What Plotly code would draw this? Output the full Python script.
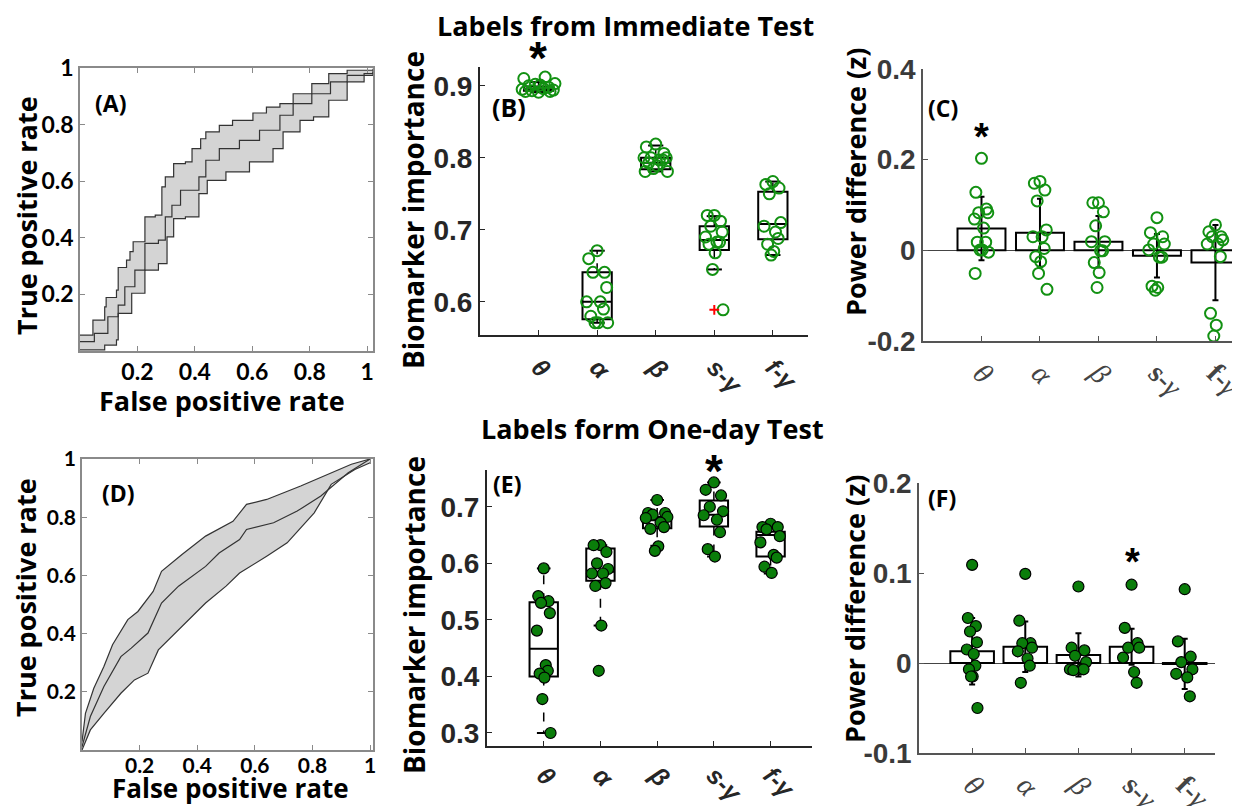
import plotly.graph_objects as go

# ---------------- data ----------------
CATS = [1, 2, 3, 4, 5]
CAT_BOLD = ['<b><i>θ</i></b>', '<b><i>α</i></b>', '<b><i>β</i></b>', '<b><i>s-γ</i></b>', '<b><i>f-γ</i></b>']
CAT_SYM = ['<i>θ</i>', '<i>α</i>', '<i>β</i>', '<b>s-</b><i>γ</i>', '<b>f-</b><i>γ</i>']

# Panel A ROC (immediate)
A_up_x = [0, 0.045, 0.086, 0.091, 0.109, 0.127, 0.133, 0.162, 0.174, 0.185, 0.209, 0.226, 0.262, 0.285, 0.297, 0.326, 0.367, 0.39, 0.42, 0.438, 0.485, 0.531, 0.602, 0.649, 0.696, 0.742, 0.807, 0.866, 0.93, 1.02]
A_up_y = [0.056, 0.109, 0.156, 0.189, 0.189, 0.215, 0.295, 0.321, 0.351, 0.386, 0.386, 0.474, 0.48, 0.58, 0.615, 0.662, 0.668, 0.715, 0.75, 0.774, 0.797, 0.815, 0.841, 0.862, 0.874, 0.909, 0.945, 0.98, 0.992, 0.997]
A_mid_x = [0, 0.05, 0.097, 0.133, 0.156, 0.191, 0.226, 0.273, 0.297, 0.32, 0.35, 0.414, 0.438, 0.485, 0.555, 0.625, 0.696, 0.742, 0.807, 0.872, 0.93, 1.02]
A_mid_y = [0.033, 0.062, 0.121, 0.162, 0.227, 0.286, 0.38, 0.392, 0.474, 0.515, 0.568, 0.615, 0.674, 0.715, 0.744, 0.78, 0.833, 0.874, 0.909, 0.951, 0.974, 0.992]
A_lo_x = [0, 0.086, 0.127, 0.133, 0.18, 0.226, 0.273, 0.303, 0.326, 0.367, 0.414, 0.443, 0.508, 0.59, 0.672, 0.707, 0.766, 0.813, 0.866, 0.93, 0.989, 1.02]
A_lo_y = [0.004, 0.021, 0.039, 0.133, 0.204, 0.286, 0.309, 0.403, 0.468, 0.474, 0.556, 0.603, 0.633, 0.668, 0.715, 0.774, 0.815, 0.827, 0.886, 0.951, 0.98, 0.986]

# Panel D ROC (one-day)
D_up_x = [0, 0.012, 0.041, 0.076, 0.106, 0.159, 0.194, 0.247, 0.276, 0.347, 0.429, 0.524, 0.571, 0.641, 0.759, 0.865, 0.935, 1.0]
D_up_y = [0.029, 0.126, 0.212, 0.287, 0.362, 0.448, 0.476, 0.545, 0.614, 0.672, 0.735, 0.786, 0.844, 0.861, 0.907, 0.953, 0.982, 1.0]
D_mid_x = [0, 0.029, 0.076, 0.135, 0.171, 0.229, 0.276, 0.335, 0.429, 0.476, 0.547, 0.571, 0.665, 0.747, 0.829, 0.924, 1.0]
D_mid_y = [0.011, 0.115, 0.218, 0.321, 0.35, 0.402, 0.505, 0.563, 0.631, 0.677, 0.723, 0.758, 0.781, 0.821, 0.873, 0.953, 1.0]
D_lo_x = [0, 0.029, 0.076, 0.135, 0.182, 0.229, 0.265, 0.324, 0.429, 0.5, 0.547, 0.641, 0.712, 0.806, 0.865, 0.947, 1.0]
D_lo_y = [0, 0.069, 0.126, 0.195, 0.241, 0.264, 0.344, 0.402, 0.505, 0.563, 0.608, 0.666, 0.712, 0.815, 0.913, 0.964, 0.987]

# Panel B boxplot (immediate)
B_q1 = [0.893, 0.576, 0.784, 0.672, 0.687]
B_med = [0.895, 0.600, 0.793, 0.686, 0.708]
B_q3 = [0.899, 0.641, 0.800, 0.705, 0.753]
B_lo = [0.891, 0.571, 0.781, 0.645, 0.665]
B_hi = [0.905, 0.671, 0.817, 0.719, 0.767]
B_outlier_cat = [4]
B_outlier_val = [0.589]
B_theta = [0.891, 0.892, 0.892, 0.893, 0.894, 0.895, 0.896, 0.898, 0.900, 0.901, 0.902, 0.903, 0.910, 0.912]
B_alpha = [0.671, 0.660, 0.641, 0.641, 0.620, 0.600, 0.600, 0.590, 0.580, 0.571, 0.571, 0.571]
B_beta = [0.819, 0.815, 0.806, 0.800, 0.800, 0.800, 0.797, 0.797, 0.793, 0.789, 0.785, 0.781, 0.781]
B_sgamma = [0.720, 0.720, 0.712, 0.705, 0.697, 0.690, 0.683, 0.683, 0.680, 0.668, 0.645, 0.589]
B_fgamma = [0.767, 0.763, 0.758, 0.750, 0.710, 0.705, 0.697, 0.688, 0.680, 0.670, 0.665]

# Panel E boxplot (one-day)
E_q1 = [0.400, 0.569, 0.662, 0.665, 0.612]
E_med = [0.449, 0.585, 0.676, 0.686, 0.650]
E_q3 = [0.531, 0.626, 0.682, 0.711, 0.656]
E_lo = [0.300, 0.490, 0.631, 0.612, 0.582]
E_hi = [0.591, 0.632, 0.712, 0.743, 0.670]
E_theta = [0.591, 0.542, 0.533, 0.530, 0.512, 0.481, 0.420, 0.410, 0.405, 0.398, 0.360, 0.300]
E_alpha = [0.632, 0.632, 0.620, 0.600, 0.590, 0.582, 0.582, 0.565, 0.560, 0.490, 0.410]
E_beta = [0.712, 0.689, 0.689, 0.686, 0.682, 0.680, 0.672, 0.664, 0.661, 0.630, 0.622]
E_sgamma = [0.743, 0.730, 0.720, 0.700, 0.692, 0.685, 0.677, 0.655, 0.625, 0.612]
E_fgamma = [0.670, 0.664, 0.664, 0.660, 0.648, 0.637, 0.615, 0.610, 0.594, 0.583]

# Panel C bars (immediate)
C_mean = [0.048, 0.039, 0.019, -0.012, -0.027]
C_err = [0.070, 0.075, 0.057, 0.048, 0.083]
C_theta = [0.203, 0.128, 0.091, 0.083, 0.083, 0.069, 0.049, 0.018, 0.018, 0.001, 0.001, -0.004, -0.051]
C_alpha = [0.152, 0.148, 0.133, 0.109, 0.045, 0.030, 0.030, 0.004, -0.014, -0.025, -0.051, -0.086]
C_beta = [0.105, 0.105, 0.085, 0.054, 0.019, 0.019, -0.001, -0.001, -0.027, -0.049, -0.082]
C_sgamma = [0.072, 0.039, 0.030, 0.014, 0.014, 0.001, -0.015, -0.015, -0.079, -0.082, -0.088]
C_fgamma = [0.056, 0.041, 0.030, 0.030, 0.023, 0.014, 0.014, -0.014, -0.139, -0.165, -0.189]

# Panel F bars (one-day)
F_mean = [0.013, 0.018, 0.009, 0.018, -0.001]
F_err = [0.037, 0.028, 0.024, 0.020, 0.028]
F_theta = [0.109, 0.050, 0.041, 0.035, 0.023, 0.015, 0.010, -0.003, -0.007, -0.015, -0.015, -0.050]
F_alpha = [0.099, 0.047, 0.022, 0.022, 0.017, 0.013, 0.005, -0.003, -0.022]
F_beta = [0.085, 0.017, 0.014, 0.008, 0.001, -0.007, -0.007, -0.007, -0.008]
F_sgamma = [0.087, 0.039, 0.022, 0.017, 0.017, 0.006, -0.010, -0.022]
F_fgamma = [0.082, 0.024, 0.007, 0.001, -0.007, -0.012, -0.016, -0.037]

# jitter pattern (horizontal spread of dots, style only)
JIT = [0.0, -0.8, 0.7, -0.4, 0.9, -1.0, 0.3, 0.6, -0.6, 0.1, -0.2, 1.0, -0.9, 0.4]

GREEN = '#129112'
DARK = '#262626'
OFF = 8                     # page body margin
W, H = 1240 - OFF, 806 - OFF


def px(x):
    return (x - OFF) / W


def py(y):
    return 1 - (y - OFF) / H


fig = go.Figure()


def roc(xa, ya, up, mid, lo, shape):
    fig.add_trace(go.Scatter(x=lo[0], y=lo[1], mode='lines', line=dict(color='#333', width=1.2, shape=shape),
                             xaxis=xa, yaxis=ya, showlegend=False))
    fig.add_trace(go.Scatter(x=up[0], y=up[1], mode='lines', line=dict(color='#333', width=1.2, shape=shape),
                             fill='tonexty', fillcolor='#d4d4d4', xaxis=xa, yaxis=ya, showlegend=False))
    fig.add_trace(go.Scatter(x=mid[0], y=mid[1], mode='lines', line=dict(color='#333', width=1.2, shape=shape),
                             xaxis=xa, yaxis=ya, showlegend=False))


roc('x', 'y', (A_up_x, A_up_y), (A_mid_x, A_mid_y), (A_lo_x, A_lo_y), 'hv')
roc('x4', 'y4', (D_up_x, D_up_y), (D_mid_x, D_mid_y), (D_lo_x, D_lo_y), 'linear')


def boxpanel(xa, ya, q1, med, q3, lo, hi, groups, spread, marker, cap=0.12):
    fig.add_trace(go.Box(x=CATS, q1=q1, median=med, q3=q3, lowerfence=q1, upperfence=q3,
                         width=0.5, whiskerwidth=0, boxpoints=False, fillcolor='rgba(255,255,255,0)',
                         line=dict(color='black', width=2), xaxis=xa, yaxis=ya, showlegend=False))
    wx, wy, cx, cy = [], [], [], []
    for c, a, b, l, h in zip(CATS, q1, q3, lo, hi):
        wx += [c, c, None, c, c, None]
        wy += [b, h, None, a, l, None]
        cx += [c - cap, c + cap, None, c - cap, c + cap, None]
        cy += [h, h, None, l, l, None]
    fig.add_trace(go.Scatter(x=wx, y=wy, mode='lines', line=dict(color='black', width=1.5, dash='dash'),
                             xaxis=xa, yaxis=ya, showlegend=False))
    fig.add_trace(go.Scatter(x=cx, y=cy, mode='lines', line=dict(color='black', width=2),
                             xaxis=xa, yaxis=ya, showlegend=False))
    for c, vals, s in zip(CATS, groups, spread):
        xs = [c + s * JIT[i % len(JIT)] for i in range(len(vals))]
        fig.add_trace(go.Scatter(x=xs, y=vals, mode='markers', marker=marker,
                                 xaxis=xa, yaxis=ya, showlegend=False))


hollow = dict(symbol='circle-open', size=11, color=GREEN, line=dict(width=2, color=GREEN))
filled = dict(symbol='circle', size=11, color='#0a7d0a', line=dict(width=1.2, color='black'))

boxpanel('x2', 'y2', B_q1, B_med, B_q3, B_lo, B_hi,
         [B_theta, B_alpha, B_beta, B_sgamma, B_fgamma], [0.28, 0.18, 0.2, 0.15, 0.15], hollow, cap=0.13)
fig.add_trace(go.Scatter(x=B_outlier_cat, y=B_outlier_val, mode='markers',
                         marker=dict(symbol='cross-thin', size=7, line=dict(width=2, color='red')),
                         xaxis='x2', yaxis='y2', showlegend=False))
boxpanel('x5', 'y5', E_q1, E_med, E_q3, E_lo, E_hi,
         [E_theta, E_alpha, E_beta, E_sgamma, E_fgamma], [0.12, 0.15, 0.2, 0.18, 0.18], filled, cap=0.12)


def barpanel(xa, ya, mean, err, groups, spread, marker):
    fig.add_trace(go.Bar(x=CATS, y=mean, width=0.82, marker=dict(color='white', line=dict(color='black', width=2)),
                         error_y=dict(type='data', array=err, color='black', thickness=2, width=3),
                         xaxis=xa, yaxis=ya, showlegend=False))
    for c, vals, s in zip(CATS, groups, spread):
        xs = [c + s * JIT[i % len(JIT)] for i in range(len(vals))]
        fig.add_trace(go.Scatter(x=xs, y=vals, mode='markers', marker=marker,
                                 xaxis=xa, yaxis=ya, showlegend=False))


barpanel('x3', 'y3', C_mean, C_err, [C_theta, C_alpha, C_beta, C_sgamma, C_fgamma],
         [0.12, 0.12, 0.12, 0.14, 0.14], dict(symbol='circle-open', size=11, color=GREEN, line=dict(width=2, color=GREEN)))
barpanel('x6', 'y6', F_mean, F_err, [F_theta, F_alpha, F_beta, F_sgamma, F_fgamma],
         [0.1, 0.14, 0.16, 0.16, 0.16], filled)

# ---------------- axes ----------------
NUMF = 'Liberation Sans, Arial, sans-serif'
LATO = 'Lato, Open Sans, sans-serif'
OPEN = 'Open Sans, Lato, sans-serif'

roc_ax = dict(showline=True, linecolor='#8a8a8a', linewidth=1.5, mirror='ticks', ticks='inside',
              tickcolor='#8a8a8a', ticklen=5, showgrid=False, zeroline=False,
              automargin=False, tickvals=[0.2, 0.4, 0.6, 0.8, 1], ticktext=['0.2', '0.4', '0.6', '0.8', '1'])
tickA = dict(family=LATO, size=23, color='black', weight='bold')
tickD = dict(family=LATO, size=21, color='black', weight='bold')

lay = dict(width=W, height=H, margin=dict(l=0, r=0, t=0, b=0, autoexpand=False), template='none',
           plot_bgcolor='white', paper_bgcolor='white', boxmode='overlay', showlegend=False)

lay['xaxis'] = dict(roc_ax, domain=[px(80), px(373)], range=[0, 1.02], anchor='y', tickfont=tickA)
lay['yaxis'] = dict(roc_ax, domain=[py(351), py(68)], range=[0, 1.0], anchor='x', tickfont=tickA)
lay['xaxis4'] = dict(roc_ax, domain=[px(82), px(373)], range=[0, 1.01], anchor='y4', tickfont=tickD,
                     ticklabelstandoff=-4)
lay['yaxis4'] = dict(roc_ax, domain=[py(750), py(459)], range=[0, 1.0], anchor='x4', tickfont=tickD)

num_tick = dict(family=NUMF, size=28, color=DARK, weight='bold')
cat_bold = dict(family='Liberation Sans, Arial, sans-serif', size=25, color=DARK, weight='bold')
cat_sym = dict(family='Liberation Serif, serif', size=29, color='#444')

box_x = dict(showline=True, linecolor=DARK, linewidth=2, ticks='inside', tickcolor=DARK, ticklen=5,
             showgrid=False, zeroline=False, tickvals=CATS, ticktext=CAT_BOLD, tickangle=45, tickfont=cat_bold,
             automargin=False, ticklabeloverflow='allow')
box_y = dict(showline=True, linecolor=DARK, linewidth=2, ticks='inside', tickcolor=DARK, ticklen=5,
             showgrid=False, zeroline=False, tickfont=num_tick, automargin=False)

lay['xaxis2'] = dict(box_x, domain=[px(480), px(808)], range=[0, 5.6], anchor='y2', ticklabelstandoff=6)
lay['yaxis2'] = dict(box_y, domain=[py(335), py(67)], range=[0.554, 0.926], anchor='x2',
                     tickvals=[0.6, 0.7, 0.8, 0.9], ticktext=['0.6', '0.7', '0.8', '0.9'])
lay['xaxis5'] = dict(box_x, domain=[px(487), px(812)], range=[0, 5.73], anchor='y5', ticklabelstandoff=3)
lay['yaxis5'] = dict(box_y, domain=[py(746), py(470)], range=[0.277, 0.765], anchor='x5',
                     tickvals=[0.3, 0.4, 0.5, 0.6, 0.7], ticktext=['0.3', '0.4', '0.5', '0.6', '0.7'])

bar_x = dict(showline=True, linecolor='#555', linewidth=1.5, ticks='inside', tickcolor='#555', ticklen=5,
             showgrid=False, zeroline=False, tickvals=CATS, ticktext=CAT_SYM, tickangle=45, tickfont=cat_sym,
             automargin=False, ticklabelstandoff=2, ticklabeloverflow='allow')
bar_y = dict(showline=True, linecolor='#555', linewidth=1.5, ticks='inside', tickcolor='#555', ticklen=5,
             showgrid=False, zeroline=True, zerolinecolor='#444', zerolinewidth=1, automargin=False,
             tickfont=dict(family=NUMF, size=28, color='#3a3a3a', weight='bold'))

lay['xaxis3'] = dict(bar_x, domain=[px(923), 1.0], range=[0, 5.42], anchor='y3')
lay['yaxis3'] = dict(bar_y, domain=[py(341), py(69)], range=[-0.2, 0.4], anchor='x3',
                     tickvals=[-0.2, 0, 0.2, 0.4], ticktext=['-0.2', '0', '0.2', '0.4'])
lay['xaxis6'] = dict(bar_x, domain=[px(919), px(1215)], range=[0, 5.57], anchor='y6')
lay['yaxis6'] = dict(bar_y, domain=[py(753), py(483)], range=[-0.1, 0.2], anchor='x6',
                     tickvals=[-0.1, 0, 0.1, 0.2], ticktext=['-0.1', '0', '0.1', '0.2'])

fig.update_layout(**lay)

# ---------------- text ----------------
ann = []


def text(t, x, y, size, angle=0, family=OPEN, color='black'):
    ann.append(dict(text=t, x=px(x), y=py(y), xref='paper', yref='paper', showarrow=False,
                    textangle=angle, xanchor='center', yanchor='middle',
                    font=dict(family=family, size=size, color=color, weight='bold')))


text('True positive rate', 26, 216, 27, -90)
text('False positive rate', 222, 400, 27)
text('True positive rate', 25, 598, 27, -90)
text('False positive rate', 230, 788, 26)
text('Biomarker importance', 413, 210, 28, -90)
text('Biomarker importance', 414, 615, 28, -90)
text('Power difference (z)', 855, 182, 27, -90)
text('Power difference (z)', 854, 609, 27, -90)
text('Labels from Immediate Test', 625, 26, 27)
text('Labels form One-day Test', 652, 428, 27)
text('(A)', 110, 103, 23)
text('(B)', 509, 107, 25)
text('(C)', 943, 108, 23)
text('(D)', 118, 493, 23)
text('(E)', 507, 484, 23)
text('(F)', 942, 498, 23)
text('*', 538, 58, 46, family=NUMF)
text('*', 981, 137, 38, family=NUMF)
text('*', 714, 471, 46, family=NUMF)
text('*', 1132, 562, 38, family=NUMF)

fig.update_layout(annotations=ann)
fig.write_html('out.html')
